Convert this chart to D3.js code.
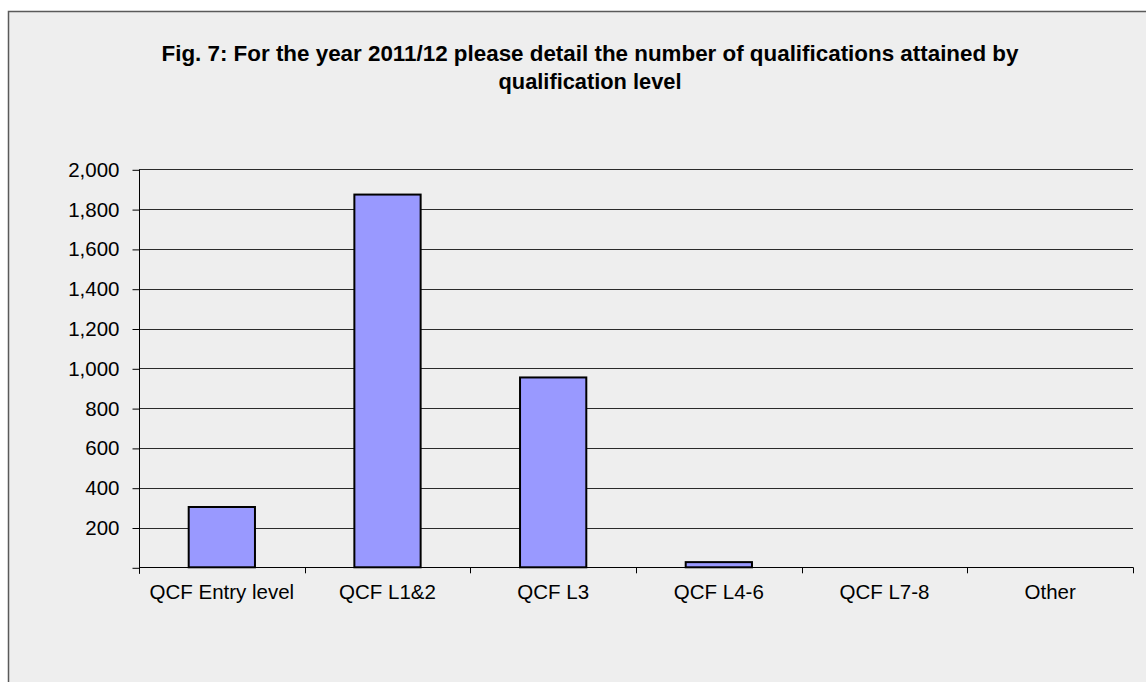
<!DOCTYPE html>
<html>
<head>
<meta charset="utf-8">
<script src="https://cdn.jsdelivr.net/npm/d3@7/dist/d3.min.js"></script>
<style>
  html, body { margin: 0; padding: 0; background: #ffffff; }
  svg { display: block; }
  text { font-family: "Liberation Sans", Arial, sans-serif; fill: #000; }
</style>
</head>
<body>
<svg id="chart" width="1146" height="682"></svg>
<script>
// Qualifications attained by level, 2011/12
const categories = ["QCF Entry level", "QCF L1&2", "QCF L3", "QCF L4-6", "QCF L7-8", "Other"];
const values = [303, 1873, 954, 26, 0, 0];
const yTicks = [200, 400, 600, 800, 1000, 1200, 1400, 1600, 1800, 2000];
const titleLines = [
  "Fig. 7: For the year 2011/12 please detail the number of qualifications attained by",
  "qualification level"
];

const data = categories.map((c, i) => ({ category: c, value: values[i] }));

const svg = d3.select("#chart");
const W = 1146, H = 682;

// chart frame
svg.append("rect")
  .attr("x", 8.5).attr("y", 11.5)
  .attr("width", W + 20).attr("height", H + 20)
  .attr("fill", "#eeeeee")
  .attr("stroke", "#5a5a5a")
  .attr("stroke-width", 1.5);

const plot = { left: 139, right: 1133, top: 169.3, bottom: 567.3 };

const x = d3.scaleBand()
  .domain(categories)
  .range([plot.left, plot.right])
  .paddingInner(0.6)
  .paddingOuter(0.3);

const xTickScale = d3.scaleLinear()
  .domain([0, categories.length])
  .range([plot.left, plot.right]);

const y = d3.scaleLinear()
  .domain([0, 2000])
  .range([plot.bottom, plot.top]);

// title (condensed bold, two centred lines)
const title = svg.append("g");
title.append("text")
  .attr("x", 590).attr("y", 61)
  .attr("text-anchor", "middle")
  .attr("font-size", 22)
  .attr("textLength", 857)
  .attr("lengthAdjust", "spacingAndGlyphs")
  .style("font-weight", "bold")
  .text(titleLines[0]);
title.append("text")
  .attr("x", 590).attr("y", 88.5)
  .attr("text-anchor", "middle")
  .attr("font-size", 22)
  .attr("textLength", 183)
  .attr("lengthAdjust", "spacingAndGlyphs")
  .style("font-weight", "bold")
  .text(titleLines[1]);

// gridlines
svg.append("g")
  .selectAll("line")
  .data(yTicks)
  .join("line")
  .attr("x1", plot.left).attr("x2", plot.right)
  .attr("y1", d => Math.round(y(d)) + 0.5)
  .attr("y2", d => Math.round(y(d)) + 0.5)
  .attr("stroke", "#2a2a2a")
  .attr("stroke-width", 1);

// y axis
const yAxis = d3.axisLeft(y)
  .tickValues([0].concat(yTicks))
  .tickSize(7)
  .tickPadding(13)
  .tickFormat(d => d === 0 ? "" : d3.format(",")(d));
const gy = svg.append("g")
  .attr("transform", `translate(${plot.left + 0.5},0.5)`)
  .call(yAxis);
gy.select(".domain").attr("stroke", "#000").attr("d", `M0,${y(2000)}V${y(0) + 6}`);
gy.selectAll(".tick line").attr("stroke", "#000");
gy.selectAll(".tick text")
  .attr("font-size", 20.5)
  .attr("font-family", "Liberation Sans, Arial, sans-serif")
  .attr("fill", "#000");

// bars
svg.append("g")
  .selectAll("rect")
  .data(data.filter(d => d.value > 0))
  .join("rect")
  .attr("x", d => x(d.category))
  .attr("y", d => y(d.value))
  .attr("width", x.bandwidth())
  .attr("height", d => y(0) - y(d.value))
  .attr("fill", "#9999ff")
  .attr("stroke", "#000")
  .attr("stroke-width", 2);

// x axis baseline and category ticks
const gx = svg.append("g");
gx.append("line")
  .attr("x1", plot.left).attr("x2", plot.right)
  .attr("y1", Math.round(y(0)) + 0.5).attr("y2", Math.round(y(0)) + 0.5)
  .attr("stroke", "#000");
gx.selectAll("line.tick")
  .data(d3.range(categories.length + 1))
  .join("line")
  .attr("class", "tick")
  .attr("x1", d => Math.round(xTickScale(d)) + 0.5)
  .attr("x2", d => Math.round(xTickScale(d)) + 0.5)
  .attr("y1", y(0))
  .attr("y2", y(0) + 6)
  .attr("stroke", "#000");
gx.selectAll("text")
  .data(categories)
  .join("text")
  .attr("x", d => x(d) + x.bandwidth() / 2)
  .attr("y", 599)
  .attr("text-anchor", "middle")
  .attr("font-size", 20.5)
  .text(d => d);
</script>
</body>
</html>
